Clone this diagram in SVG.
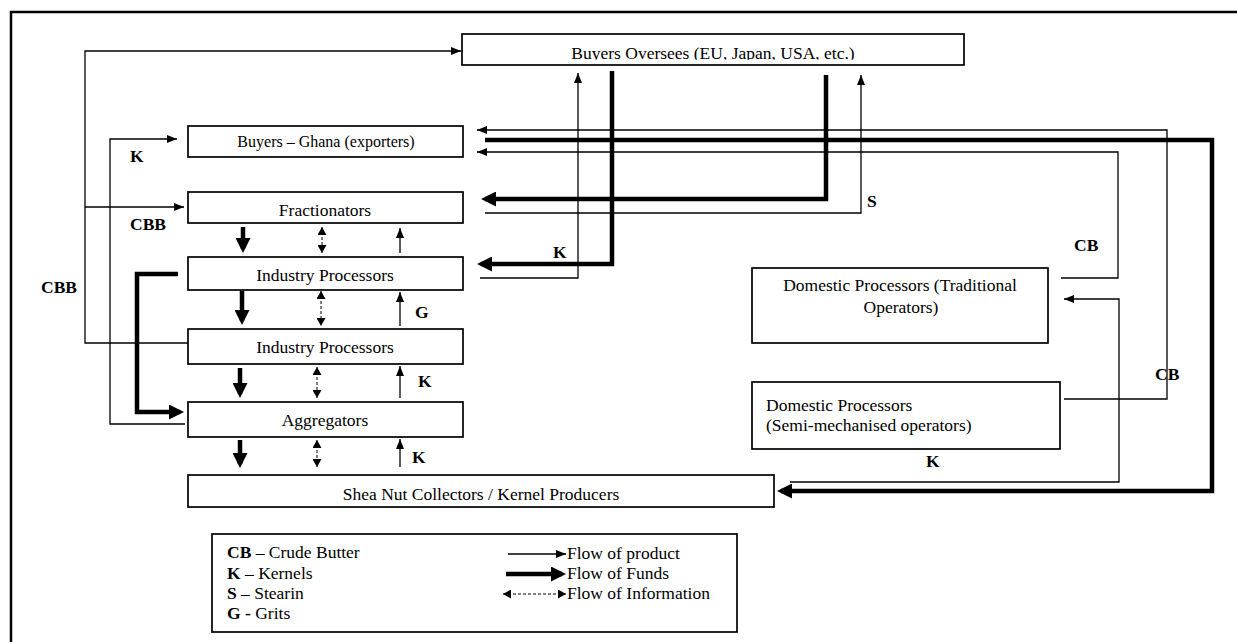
<svg xmlns="http://www.w3.org/2000/svg" width="1237" height="642" viewBox="0 0 1237 642">
<style>
.box{fill:#fff;stroke:#000;stroke-width:1.7}
.t{font-family:"Liberation Serif","Times New Roman",serif;font-size:17.5px;fill:#000}
.tc{text-anchor:middle}
.b{font-weight:bold}
.thin{fill:none;stroke:#000;stroke-width:1.3}
.thick{fill:none;stroke:#000;stroke-width:4.5}
.dash{fill:none;stroke:#000;stroke-width:1;stroke-dasharray:3 2}
</style>
<defs>
<marker id="ah" markerUnits="userSpaceOnUse" markerWidth="10" markerHeight="8" refX="10" refY="4" orient="auto"><path d="M0,0 L10,4 L0,8 z" fill="#000"/></marker>
<marker id="ahT" markerUnits="userSpaceOnUse" markerWidth="15" markerHeight="15" refX="11" refY="7.5" orient="auto"><path d="M0,0 L15,7.5 L0,15 z" fill="#000"/></marker>
<marker id="ahD" markerUnits="userSpaceOnUse" markerWidth="8" markerHeight="9" refX="8" refY="4.5" orient="auto-start-reverse"><path d="M0,0 L8,4.5 L0,9 z" fill="#000"/></marker>
<clipPath id="clipOver"><rect x="462" y="34" width="502" height="25.8"/></clipPath>
</defs>

<path d="M11,650 V12 H1245" fill="none" stroke="#000" stroke-width="2.5"/>

<g id="connectors">
  <path class="thin" d="M188,343 H85 V51 H461" marker-end="url(#ah)"/>
  <path class="thin" d="M85,207 H184" marker-end="url(#ah)"/>
  <path class="thin" d="M185,424 H110 V139 H177" marker-end="url(#ah)"/>
  <path class="thick" d="M178,274 H137 V412 H180" marker-end="url(#ahT)"/>

  <path class="thick" d="M243,227 V249" marker-end="url(#ahT)"/>
  <path class="thick" d="M242,291 V321" marker-end="url(#ahT)"/>
  <path class="thick" d="M240,368 V394" marker-end="url(#ahT)"/>
  <path class="thick" d="M240,440 V464" marker-end="url(#ahT)"/>

  <path class="dash" d="M322,227 V253" marker-start="url(#ahD)" marker-end="url(#ahD)"/>
  <path class="dash" d="M321,291 V326" marker-start="url(#ahD)" marker-end="url(#ahD)"/>
  <path class="dash" d="M317,367 V398" marker-start="url(#ahD)" marker-end="url(#ahD)"/>
  <path class="dash" d="M317,440 V467" marker-start="url(#ahD)" marker-end="url(#ahD)"/>

  <path class="thin" d="M400,253 V228" marker-end="url(#ah)"/>
  <path class="thin" d="M400,326 V292" marker-end="url(#ah)"/>
  <path class="thin" d="M400,398 V366" marker-end="url(#ah)"/>
  <path class="thin" d="M400,467 V439" marker-end="url(#ah)"/>

  <path class="thin" d="M480,278 H578 V73" marker-end="url(#ah)"/>
  <path class="thick" d="M612,71 V264 H481" marker-end="url(#ahT)"/>
  <path class="thick" d="M826,75 V199 H485" marker-end="url(#ahT)"/>
  <path class="thin" d="M485,213 H861 V75" marker-end="url(#ah)"/>

  <path class="thin" d="M1064,399 H1167 V130 H477" marker-end="url(#ah)"/>
  <path class="thin" d="M1061,278 H1118 V152 H477" marker-end="url(#ah)"/>
  <path class="thick" d="M485,140 H1212 V491 H781" marker-end="url(#ahT)"/>
  <path class="thin" d="M790,482 H1119 V299 H1064" marker-end="url(#ah)"/>
</g>

<g id="labels">
  <text class="t b" x="130" y="162">K</text>
  <text class="t b" x="130" y="230">CBB</text>
  <text class="t b" x="41" y="293">CBB</text>
  <text class="t b" x="553" y="258">K</text>
  <text class="t b" x="867" y="207">S</text>
  <text class="t b" x="1074" y="251">CB</text>
  <text class="t b" x="1155" y="380">CB</text>
  <text class="t b" x="926" y="467">K</text>
  <text class="t b" x="415" y="318">G</text>
  <text class="t b" x="418" y="387">K</text>
  <text class="t b" x="412" y="463">K</text>
</g>

<g id="buyers-overseas">
  <rect class="box" x="462" y="34" width="502" height="31"/>
  <text class="t tc" x="713" y="58.5" clip-path="url(#clipOver)">Buyers Oversees (EU, Japan, USA, etc.)</text>
</g>
<g id="buyers-ghana">
  <rect class="box" x="188" y="126" width="275" height="31"/>
  <text class="t tc" x="326" y="147" style="font-size:16px">Buyers – Ghana (exporters)</text>
</g>
<g id="fractionators">
  <rect class="box" x="188" y="192" width="275" height="31"/>
  <text class="t tc" x="325" y="216">Fractionators</text>
</g>
<g id="industry-processors-1">
  <rect class="box" x="188" y="257" width="275" height="33"/>
  <text class="t tc" x="325" y="281">Industry Processors</text>
</g>
<g id="industry-processors-2">
  <rect class="box" x="188" y="329" width="275" height="35"/>
  <text class="t tc" x="325" y="353">Industry Processors</text>
</g>
<g id="aggregators">
  <rect class="box" x="188" y="402" width="275" height="35"/>
  <text class="t tc" x="325" y="426">Aggregators</text>
</g>
<g id="shea-nut-collectors">
  <rect class="box" x="188" y="475" width="586" height="32"/>
  <text class="t tc" x="481" y="500">Shea Nut Collectors / Kernel Producers</text>
</g>
<g id="domestic-traditional">
  <rect class="box" x="752" y="268" width="296" height="75"/>
  <text class="t tc" x="900" y="291">Domestic Processors (Traditional</text>
  <text class="t tc" x="901" y="313">Operators)</text>
</g>
<g id="domestic-semi">
  <rect class="box" x="752" y="382" width="308" height="67"/>
  <text class="t" x="766" y="411">Domestic Processors</text>
  <text class="t" x="766" y="431">(Semi-mechanised operators)</text>
</g>

<g id="legend">
  <rect class="box" x="212" y="534" width="525" height="98"/>
  <text class="t" x="227" y="558"><tspan class="b">CB</tspan> – Crude Butter</text>
  <text class="t" x="227" y="579"><tspan class="b">K</tspan> – Kernels</text>
  <text class="t" x="227" y="599"><tspan class="b">S</tspan> – Stearin</text>
  <text class="t" x="227" y="619"><tspan class="b">G -</tspan> Grits</text>
  <path class="thin" d="M508,554 H566" marker-end="url(#ah)"/>
  <path class="thick" d="M506,574 H562" marker-end="url(#ahT)"/>
  <path class="dash" d="M503,594 H566" marker-start="url(#ahD)" marker-end="url(#ahD)"/>
  <text class="t" x="567" y="559">Flow of product</text>
  <text class="t" x="567" y="579">Flow of Funds</text>
  <text class="t" x="567" y="599">Flow of Information</text>
</g>
</svg>
